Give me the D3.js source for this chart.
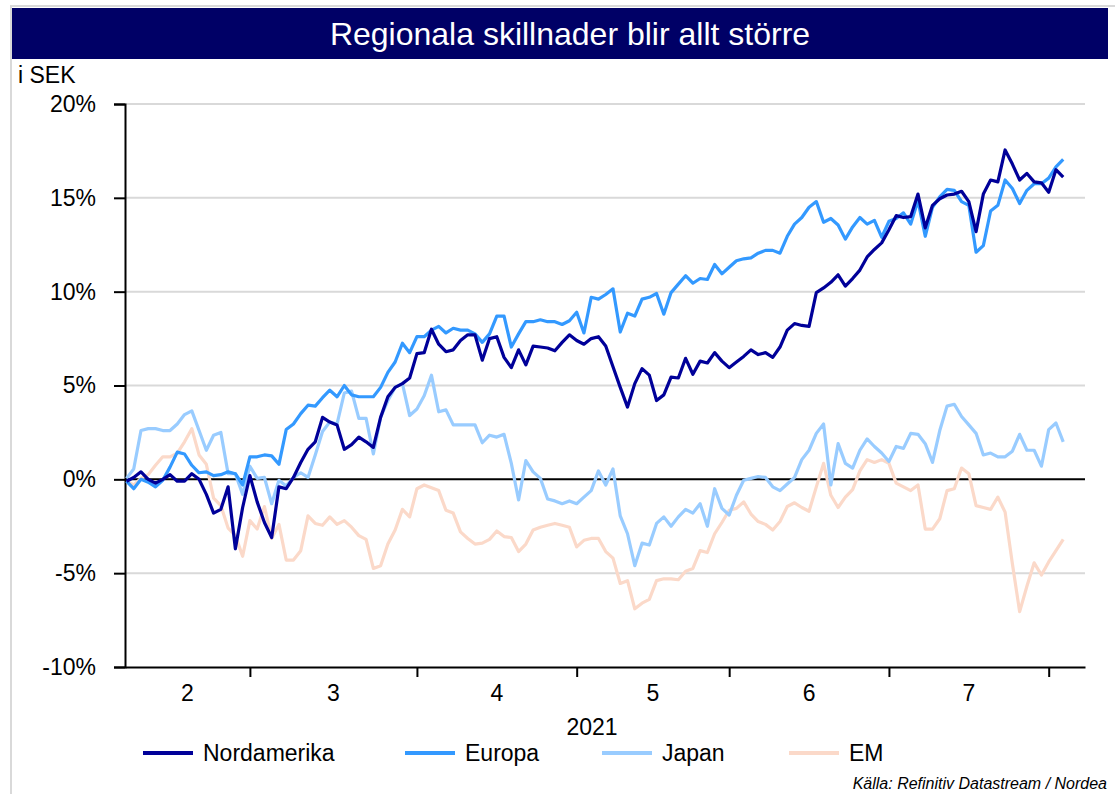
<!DOCTYPE html>
<html>
<head>
<meta charset="utf-8">
<script src="https://cdn.jsdelivr.net/npm/d3@7"></script>
<style>
  body { margin: 0; background: #fff; }
  svg text { font-family: "Liberation Sans", Arial, sans-serif; }
</style>
</head>
<body>
<div id="chart"></div>
<script>
// series, % change in SEK, one value per trading day from 4 Feb 2021
var nordamerika = [-0.1, 0.1, 0.4, 0.0, -0.2, 0.0, 0.25, -0.1, -0.1, 0.3,
  0.0, -0.8, -1.8, -1.6, -0.4, -3.7, -1.5, 0.2, -1.2, -2.3,
  -3.1, -0.4, -0.5, 0.1, 0.9, 1.6, 2.0, 3.3, 3.05, 2.9,
  1.6, 1.85, 2.25, 2.0, 1.7, 3.3, 4.4, 4.9, 5.1, 5.4,
  6.7, 6.75, 8.0, 7.2, 6.8, 6.9, 7.4, 7.7, 7.7, 6.35,
  7.5, 7.6, 6.5, 5.95, 6.9, 6.1, 7.1, 7.05, 7.0, 6.85,
  7.3, 7.7, 7.4, 7.2, 7.5, 7.6, 7.1, 6.0, 4.9, 3.85,
  5.1, 5.9, 5.55, 4.2, 4.5, 5.45, 5.4, 6.45, 5.6, 6.3,
  6.2, 6.75, 6.3, 5.95, 6.25, 6.55, 6.9, 6.65, 6.75, 6.5,
  7.05, 7.95, 8.3, 8.2, 8.15, 9.95, 10.2, 10.5, 10.9, 10.3,
  10.7, 11.15, 11.85, 12.25, 12.6, 13.3, 14.05, 13.95, 14.0, 15.2,
  13.4, 14.6, 14.95, 15.15, 15.2, 15.35, 14.8, 13.2, 15.2, 15.95,
  15.85, 17.55, 16.8, 15.95, 16.3, 15.85, 15.8, 15.3, 16.5, 16.1];

var europa = [-0.1, -0.5, 0.0, -0.15, -0.4, -0.05, 0.65, 1.45, 1.35, 0.75,
  0.35, 0.4, 0.2, 0.25, 0.4, 0.3, -0.3, 1.2, 1.2, 1.3,
  1.25, 0.8, 2.65, 2.95, 3.5, 3.95, 3.9, 4.35, 4.75, 4.4,
  5.0, 4.5, 4.4, 4.4, 4.4, 4.9, 5.7, 6.25, 7.25, 6.75,
  7.6, 7.6, 7.95, 8.15, 7.8, 8.05, 7.95, 7.95, 7.75, 7.3,
  7.75, 8.7, 8.7, 7.05, 7.75, 8.4, 8.4, 8.5, 8.4, 8.4,
  8.25, 8.45, 8.9, 7.8, 9.7, 9.6, 9.85, 10.15, 7.85, 8.85,
  8.7, 9.6, 9.7, 9.9, 8.8, 9.95, 10.4, 10.85, 10.45, 10.7,
  10.65, 11.45, 10.95, 11.3, 11.65, 11.75, 11.8, 12.05, 12.2, 12.2,
  12.05, 12.95, 13.6, 13.95, 14.5, 14.8, 13.7, 13.9, 13.55, 12.8,
  13.45, 13.95, 13.6, 13.8, 12.9, 13.75, 13.9, 14.2, 13.6, 14.85,
  12.95, 14.5, 15.05, 15.45, 15.4, 14.8, 14.6, 12.1, 12.45, 14.3,
  14.6, 15.95, 15.5, 14.7, 15.4, 15.75, 15.75, 16.05, 16.65, 17.05];

var japan = [0.05, 0.55, 2.6, 2.7, 2.7, 2.6, 2.6, 2.95, 3.45, 3.65,
  2.6, 1.55, 2.35, 2.5, 0.3, 0.3, -0.8, 0.7, 0.05, 0.1,
  -1.3, -0.05, -0.35, 0.1, 0.35, 0.1, 1.3, 2.55, 3.05, 2.95,
  4.6, 4.7, 3.25, 3.25, 1.35, 3.3, 4.2, 4.9, 5.1, 3.4,
  3.75, 4.45, 5.55, 3.6, 3.7, 2.9, 2.9, 2.9, 2.9, 1.95,
  2.35, 2.25, 2.4, 0.85, -1.1, 1.0, 0.4, 0.05, -1.05, -1.15,
  -1.3, -1.15, -1.3, -0.95, -0.6, 0.45, -0.3, 0.55, -1.95, -2.9,
  -4.6, -3.4, -3.5, -2.35, -2.0, -2.5, -2.0, -1.6, -1.8, -1.3,
  -2.5, -0.5, -1.55, -1.9, -0.85, -0.05, 0.05, 0.15, 0.1, -0.4,
  -0.6, -0.25, 0.1, 1.05, 1.55, 2.45, 2.95, -0.3, 1.9, 0.85,
  0.6, 1.55, 2.15, 1.75, 1.4, 0.95, 1.75, 1.65, 2.45, 2.4,
  1.9, 0.9, 2.6, 3.9, 4.0, 3.35, 2.9, 2.45, 1.3, 1.4,
  1.2, 1.2, 1.5, 2.4, 1.55, 1.55, 0.7, 2.65, 3.0, 2.0];

var em = [-0.1, -0.3, 0.05, 0.25, 0.75, 1.2, 1.2, 1.4, 2.0, 2.7,
  1.3, 0.8, -1.0, -1.4, -2.6, -3.0, -4.1, -2.2, -2.65, -1.45,
  -3.15, -2.4, -4.3, -4.3, -3.8, -1.95, -2.35, -2.45, -2.0, -2.4,
  -2.2, -2.55, -3.0, -3.2, -4.75, -4.6, -3.45, -2.7, -1.6, -2.0,
  -0.5, -0.3, -0.45, -0.6, -1.65, -1.8, -2.8, -3.15, -3.45, -3.4,
  -3.2, -2.75, -3.05, -3.1, -3.85, -3.45, -2.7, -2.55, -2.45, -2.35,
  -2.45, -2.55, -3.6, -3.25, -3.15, -3.15, -3.85, -4.2, -5.55, -5.4,
  -6.9, -6.6, -6.4, -5.4, -5.3, -5.3, -5.35, -4.9, -4.75, -3.8,
  -3.9, -2.9, -2.3, -1.65, -1.55, -1.2, -1.85, -2.25, -2.4, -2.7,
  -2.25, -1.45, -1.25, -1.5, -1.7, -0.4, 0.85, -0.85, -1.5, -0.95,
  -0.55, 0.45, 1.05, 0.9, 1.05, 0.85, -0.2, -0.4, -0.6, -0.3,
  -2.65, -2.65, -2.1, -0.6, -0.5, 0.6, 0.3, -1.4, -1.5, -1.6,
  -0.95, -1.75, -4.5, -7.05, -5.7, -4.45, -5.1, -4.4, -3.8, -3.2];

var seriesNames = ["Nordamerika", "Europa", "Japan", "EM"];
var seriesColors = ["#000099", "#3399ff", "#99ccff", "#fbd9c9"];
var yTicks = [-10, -5, 0, 5, 10, 15, 20];
var monthLabels = ["2", "3", "4", "5", "6", "7"];
var yearLabel = "2021";

// trading days (weekdays) 4 Feb - 4 Aug 2021
var dates = d3.utcDay.range(new Date(Date.UTC(2021, 1, 4)), new Date(Date.UTC(2021, 7, 5)))
    .filter(d => d.getUTCDay() != 0 && d.getUTCDay() != 6);

var allSeries = [nordamerika, europa, japan, em];

var svgWidth = 1115;
var svgHeight = 794;

var svg = d3.select("#chart")
    .append("svg")
    .attr("width", svgWidth)
    .attr("height", svgHeight);

// frame + title bar
svg.append("path")
    .attr("d", "M11,794 V6 H1115")
    .attr("fill", "none")
    .attr("stroke", "#d9d9d9")
    .attr("stroke-width", 2);

svg.append("rect")
    .attr("x", 12).attr("y", 8)
    .attr("width", 1096).attr("height", 51)
    .attr("fill", "#000066");

svg.append("text")
    .attr("x", 570).attr("y", 45)
    .attr("text-anchor", "middle")
    .attr("fill", "#fff")
    .attr("font-size", 32)
    .text("Regionala skillnader blir allt större");

svg.append("text")
    .attr("x", 18).attr("y", 83)
    .attr("font-size", 23)
    .text("i SEK");

var plotLeft = 125, plotRight = 1085, plotTop = 104, plotBottom = 667;

var x = d3.scaleLinear()
    .domain([-0.2, 132])
    .range([plotLeft, plotRight]);

var y = d3.scaleLinear()
    .domain([-10, 20])
    .range([plotBottom, plotTop]);

// gridlines
svg.append("g")
    .selectAll("line")
    .data(yTicks.filter(d => d != 0 && d != -10))
    .enter()
    .append("line")
    .attr("x1", plotLeft).attr("x2", plotRight)
    .attr("y1", d => y(d)).attr("y2", d => y(d))
    .attr("stroke", "#d9d9d9")
    .attr("stroke-width", 2);

// month starts
var monthStarts = [];
dates.forEach(function(d, i) {
    if (i > 0 && d.getUTCMonth() != dates[i - 1].getUTCMonth()) monthStarts.push(i);
});

var leftAxis = d3.axisLeft(y)
    .tickValues(yTicks)
    .tickFormat(d => d + "%")
    .tickSize(11)
    .tickPadding(18);

var yAxisG = svg.append("g")
    .attr("transform", `translate(${plotLeft}, 0)`)
    .call(leftAxis);
yAxisG.selectAll("text").attr("font-size", 23).attr("fill", "#000");

var bottomAxis = d3.axisBottom(x)
    .tickValues(monthStarts)
    .tickFormat("")
    .tickSizeInner(10)
    .tickSizeOuter(0);

var xAxisG = svg.append("g")
    .attr("transform", `translate(0, ${plotBottom})`)
    .call(bottomAxis);

svg.selectAll(".domain").attr("stroke", "#000").attr("stroke-width", 2);
svg.selectAll(".tick line").attr("stroke", "#000").attr("stroke-width", 2);

// month labels centred between ticks
var bounds = [x.domain()[0]].concat(monthStarts);
svg.append("g")
    .selectAll("text")
    .data(monthLabels)
    .enter()
    .append("text")
    .attr("x", (d, i) => (x(bounds[i]) + x(bounds[i + 1])) / 2)
    .attr("y", 701)
    .attr("text-anchor", "middle")
    .attr("font-size", 23)
    .text(d => d);

svg.append("text")
    .attr("x", 592).attr("y", 735)
    .attr("text-anchor", "middle")
    .attr("font-size", 23)
    .text(yearLabel);

// zero line
svg.append("line")
    .attr("x1", plotLeft).attr("x2", plotRight)
    .attr("y1", y(0)).attr("y2", y(0))
    .attr("stroke", "#000")
    .attr("stroke-width", 2);

var line = d3.line()
    .x((d, i) => x(i))
    .y(d => y(d));

// draw EM first so the dark lines sit on top
[3, 2, 1, 0].forEach(function(k) {
    svg.append("path")
        .datum(allSeries[k])
        .attr("d", line)
        .attr("fill", "none")
        .attr("stroke", seriesColors[k])
        .attr("stroke-width", 3.2)
        .attr("stroke-linejoin", "round");
});

// legend
var legendX = [143, 405, 602, 789];
var legend = svg.append("g");
seriesNames.forEach(function(name, k) {
    legend.append("line")
        .attr("x1", legendX[k]).attr("x2", legendX[k] + 50)
        .attr("y1", 753).attr("y2", 753)
        .attr("stroke", seriesColors[k])
        .attr("stroke-width", 4);
    legend.append("text")
        .attr("x", legendX[k] + 60).attr("y", 761)
        .attr("font-size", 23)
        .text(name);
});

svg.append("text")
    .attr("x", 1107).attr("y", 789)
    .attr("text-anchor", "end")
    .attr("font-size", 16)
    .attr("font-style", "italic")
    .text("Källa: Refinitiv Datastream / Nordea");
</script>
</body>
</html>
